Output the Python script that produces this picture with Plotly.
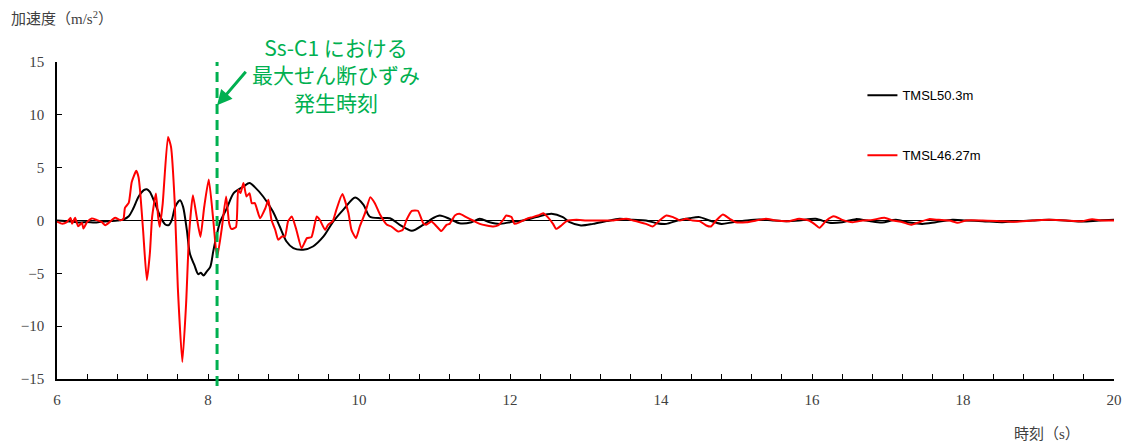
import plotly.graph_objects as go

# ---- data ----
red_t = [6.00, 6.07, 6.13, 6.18, 6.20, 6.24, 6.28, 6.33, 6.35, 6.40, 6.46, 6.53, 6.59, 6.64, 6.70, 6.77, 6.84, 6.88,
         6.90, 6.95, 6.99, 7.05, 7.08, 7.10, 7.14, 7.19, 7.23, 7.26, 7.31, 7.34, 7.36, 7.40, 7.47, 7.51, 7.56, 7.60,
         7.66, 7.71, 7.75, 7.80, 7.85, 7.90, 7.95, 8.01, 8.07, 8.12, 8.18, 8.24, 8.28, 8.31, 8.37, 8.40, 8.43, 8.47,
         8.51, 8.55, 8.58, 8.62, 8.69, 8.76, 8.80, 8.84, 8.89, 8.93, 8.98, 9.02, 9.06, 9.11, 9.17, 9.24, 9.31, 9.37,
         9.44, 9.48, 9.55, 9.59, 9.65, 9.70, 9.78, 9.86, 9.90, 9.96, 10.01, 10.08, 10.15, 10.21, 10.28, 10.37, 10.43,
         10.52, 10.58, 10.63, 10.70, 10.78, 10.85, 10.89, 10.96, 11.03, 11.09, 11.16, 11.20, 11.27, 11.33, 11.42,
         11.51, 11.60, 11.69, 11.78, 11.84, 11.91, 11.95, 12.02, 12.06, 12.13, 12.22, 12.30, 12.37, 12.44, 12.50,
         12.57, 12.61, 12.68, 12.75, 12.88, 13.01, 13.19, 13.36, 13.54, 13.63, 13.72, 13.80, 13.89, 13.98, 14.07,
         14.16, 14.25, 14.33, 14.42, 14.51, 14.60, 14.66, 14.73, 14.82, 14.91, 14.99, 15.13, 15.26, 15.39, 15.52,
         15.70, 15.83, 15.96, 16.03, 16.10, 16.19, 16.29, 16.40, 16.54, 16.67, 16.80, 16.96, 17.07, 17.20, 17.31,
         17.42, 17.55, 17.68, 17.82, 17.93, 18.04, 18.26, 18.48, 18.70, 18.92, 19.14, 19.36, 19.58, 19.71, 19.84,
         20.00]
red_v = [-0.1, -0.3, -0.15, 0.25, -0.3, 0.25, -0.55, -0.22, -0.76, -0.13, 0.2, 0.03, -0.13, -0.44, -0.13, 0.25, 0.03,
         0.15, 1.2, 1.67, 3.65, 4.7, 4.1, 2.86, -0.9, -5.65, -3.1, 0.34, 2.55, 0.34, -0.6, 1.6, 7.9, 6.97, 1.6, -6.3,
         -13.4, -7.86, -1.23, 2.4, 0.34, -1.55, 1.3, 3.88, 0.03, -3.5, -0.88, 2.27, -0.25, -0.8, -0.63, 2.9, 2.59,
         3.54, 2.27, 2.59, 1.64, 1.64, 0.22, 1.17, 1.96, 0.07, -0.88, -1.83, -1.51, -1.51, -0.09, 0.38, -0.88, -2.62,
         -1.67, -1.57, 0.38, 0.07, -0.88, -0.41, -0.09, 1.01, 2.5, 0.7, -0.88, -1.67, -0.57, 0.7, 2.21, 1.64, 0.54,
         -0.41, -0.57, -1.04, -0.88, 0.07, 0.92, 0.92, -0.25, -0.41, -0.09, -0.57, -1.0, -0.41, -0.32, 0.47, 0.63,
         0.32, 0.0, -0.32, -0.47, -0.57, -0.47, 0.06, 0.47, 0.32, -0.32, -0.16, 0.16, 0.32, 0.47, 0.69, 0.32, -0.32,
         -0.79, -0.47, -0.06, 0.06, 0.0, 0.0, 0.0, 0.16, 0.0, -0.16, -0.32, -0.57, 0.0, 0.47, 0.32, 0.0, 0.16, 0.0,
         -0.06, -0.47, -0.57, 0.0, 0.57, 0.16, -0.16, -0.16, 0.0, 0.16, 0.0, -0.06, 0.16, 0.0, -0.32, -0.69, 0.0,
         0.41, 0.06, -0.16, 0.0, 0.06, 0.25, 0.0, -0.16, -0.41, -0.16, 0.13, 0.06, 0.0, -0.22, 0.0, 0.0, -0.06,
         -0.13, 0.0, 0.06, 0.0, -0.06, 0.13, 0.0, 0.0]

black_t = [6.00, 6.10, 6.20, 6.30, 6.40, 6.50, 6.60, 6.70, 6.80, 6.88, 6.95, 7.01, 7.08, 7.15, 7.19, 7.23, 7.30, 7.37,
           7.43, 7.48, 7.52, 7.565, 7.63, 7.67, 7.72, 7.76, 7.82, 7.87, 7.905, 7.94, 7.98, 8.03, 8.07, 8.12, 8.16,
           8.25, 8.34, 8.47, 8.55, 8.62, 8.73, 8.86, 8.95, 9.04, 9.13, 9.26, 9.39, 9.53, 9.66, 9.79, 9.95, 10.06,
           10.14, 10.28, 10.41, 10.54, 10.70, 10.85, 10.98, 11.07, 11.20, 11.33, 11.49, 11.60, 11.73, 11.86, 12.00,
           12.17, 12.35, 12.55, 12.70, 12.79, 12.94, 13.10, 13.28, 13.45, 13.63, 13.80, 13.94, 14.07, 14.22, 14.38,
           14.51, 14.64, 14.80, 14.95, 15.13, 15.30, 15.48, 15.66, 15.83, 16.05, 16.23, 16.40, 16.58, 16.76, 16.93,
           17.11, 17.29, 17.46, 17.64, 17.86, 18.04, 18.26, 18.52, 18.70, 18.92, 19.14, 19.36, 19.58, 19.80, 20.00]
black_v = [0.0, -0.05, -0.1, -0.2, -0.15, -0.2, -0.1, -0.05, 0.0, 0.1, 0.4, 1.13, 2.24, 2.87, 2.96, 2.71, 1.6, 0.34,
           -0.35, -0.44, 0.03, 1.29, 1.92, 1.29, -0.92, -3.13, -4.23, -5.08, -4.95, -5.21, -4.86, -4.39, -2.9, -1.24,
           -0.13, 1.17, 2.59, 3.22, 3.54, 3.16, 2.27, 0.85, -0.57, -1.99, -2.62, -2.77, -2.46, -1.51, -0.09, 1.01,
           2.18, 1.49, 0.38, 0.22, 0.22, -0.41, -0.97, -0.41, 0.22, 0.47, 0.16, -0.25, -0.16, 0.16, -0.16, -0.32,
           -0.16, 0.0, 0.32, 0.63, 0.32, -0.16, -0.47, -0.32, -0.06, 0.16, 0.06, 0.0, -0.25, -0.32, 0.0, 0.22, 0.32,
           0.0, -0.32, -0.16, 0.0, 0.09, 0.0, -0.06, 0.0, 0.16, -0.22, -0.16, 0.13, -0.06, -0.19, 0.06, -0.19, -0.32,
           -0.16, 0.06, 0.0, -0.06, -0.16, -0.06, 0.0, 0.06, 0.0, -0.1, 0.0, 0.06]

series_names = ["TMSL50.3m", "TMSL46.27m"]
x_ticks = [6, 8, 10, 12, 14, 16, 18, 20]
y_ticks = [-15, -10, -5, 0, 5, 10, 15]
event_time = 8.12
note_lines = ["Ss-C1 における", "最大せん断ひずみ", "発生時刻"]

GREEN = "#00B050"
TICK_FONT = dict(family="Liberation Serif, Noto Sans CJK JP", size=15, color="#404040")

fig = go.Figure()
fig.add_trace(go.Scatter(x=black_t, y=black_v, mode="lines", name=series_names[0], legendgroup="a",
                         line=dict(color="#000000", width=2, shape="spline", smoothing=0.8)))
fig.add_trace(go.Scatter(x=red_t, y=red_v, mode="lines", name=series_names[1], legendgroup="b",
                         line=dict(color="#FF0000", width=2, shape="spline", smoothing=0.5)))

# dashed event line
fig.add_shape(type="line", xref="x", yref="paper", x0=event_time, x1=event_time, y0=-0.022, y1=1.0,
              line=dict(color=GREEN, width=3, dash="10px,6px"), layer="above")

# arrow
fig.add_annotation(x=event_time, y=10.9, xref="x", yref="y", ax=30, ay=-35, axref="pixel", ayref="pixel",
                   text="", showarrow=True, arrowhead=2, arrowsize=1, arrowwidth=3, arrowcolor=GREEN)

# note text
fig.add_annotation(x=0.264, y=0.959, xref="paper", yref="paper", text="<br>".join(note_lines), showarrow=False,
                   font=dict(family="Noto Sans CJK JP", size=21, color=GREEN),
                   xanchor="center", yanchor="middle", align="center")

# axis titles
fig.add_annotation(xref="paper", yref="paper", x=-0.045, y=1.0, yshift=44, text="加速度（m/s<sup>2</sup>）",
                   showarrow=False, xanchor="left", yanchor="middle",
                   font=dict(family="Liberation Serif, Noto Sans CJK JP", size=15, color="#404040"))
fig.add_annotation(xref="paper", yref="paper", x=1.0, y=0.0, yshift=-55, xshift=-32, text="時刻（s）",
                   showarrow=False, xanchor="right", yanchor="middle",
                   font=dict(family="Liberation Serif, Noto Sans CJK JP", size=15, color="#404040"))

fig.update_xaxes(range=[6, 20], tickvals=x_ticks, ticks="inside", ticklen=5, tickcolor="#000", tickwidth=1,
                 showline=True, linecolor="#000", linewidth=1.5, showgrid=False, zeroline=False,
                 tickfont=TICK_FONT, ticklabelstandoff=6, automargin=False,
                 minor=dict(dtick=0.4, tick0=6, ticks="inside", ticklen=5, tickcolor="#000", showgrid=False))
fig.update_yaxes(range=[-15, 15], tickvals=y_ticks, ticks="inside", ticklen=5, tickcolor="#000", tickwidth=1,
                 showline=True, linecolor="#000", linewidth=1.5, showgrid=False,
                 zeroline=True, zerolinecolor="#000", zerolinewidth=1,
                 tickfont=TICK_FONT, ticklabelstandoff=8, automargin=False)

fig.update_layout(
    width=1128, height=443,
    margin=dict(l=57, r=14, t=62, b=64),
    paper_bgcolor="white", plot_bgcolor="white",
    showlegend=True,
    legend=dict(x=0.762, y=0.942, xanchor="left", yanchor="top", tracegroupgap=40,
                font=dict(family="Liberation Sans, Arial", size=13, color="#000"),
                bgcolor="rgba(0,0,0,0)", borderwidth=0),
)

fig.write_html("out.html", config={"displayModeBar": False},
               post_script="document.body.style.margin='0px';document.body.style.overflow='hidden';")
